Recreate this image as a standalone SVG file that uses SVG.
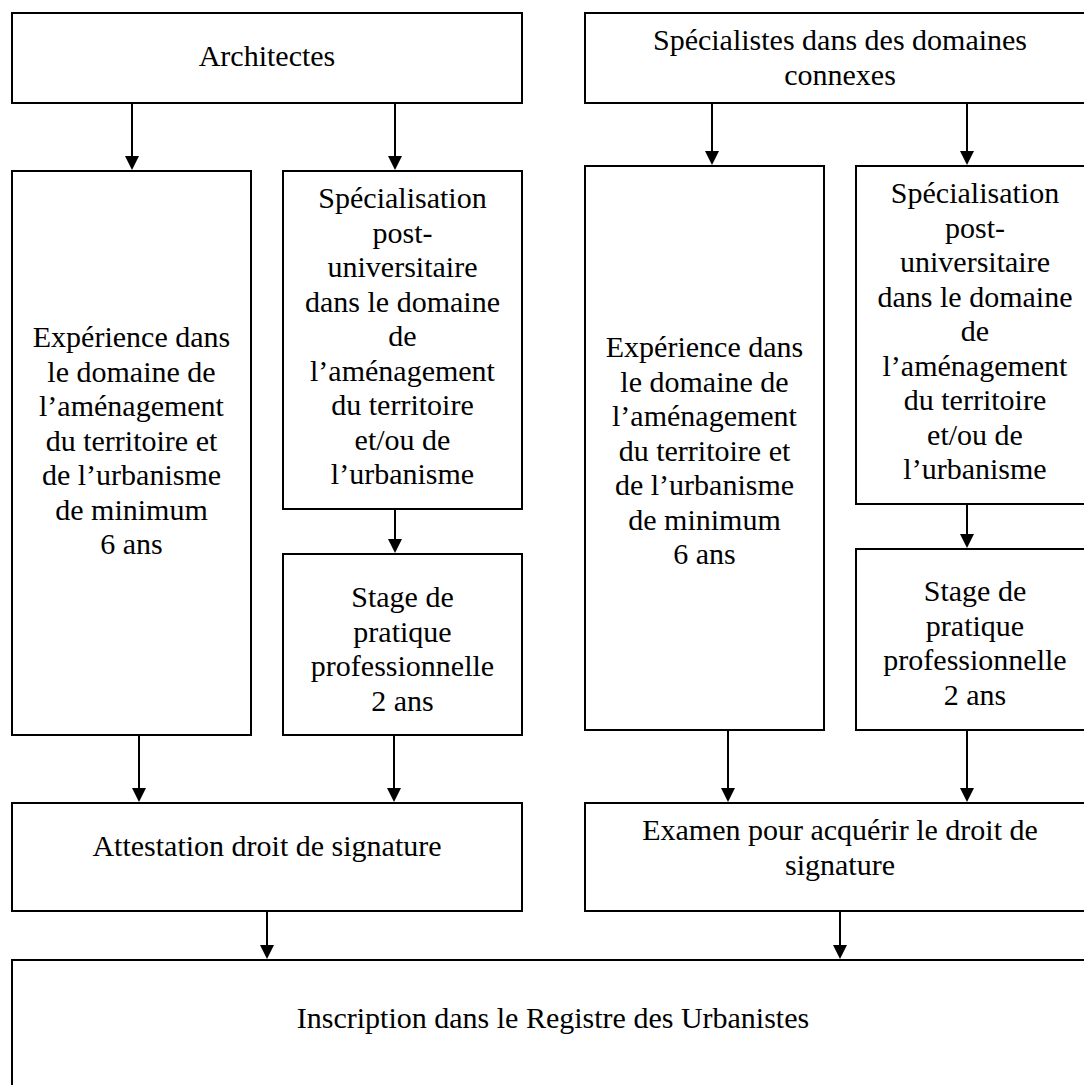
<svg xmlns="http://www.w3.org/2000/svg" width="1084" height="1085" viewBox="0 0 1084 1085">
<style>
.box{fill:#fff;stroke:#000;stroke-width:2}
.t{font-family:"Liberation Serif","Times New Roman",serif;font-size:30px;fill:#000;text-anchor:middle}
.c{stroke:#000;stroke-width:2;fill:none;marker-end:url(#ah)}
</style>
<defs>
<marker id="ah" markerUnits="userSpaceOnUse" markerWidth="14" markerHeight="14" refX="4" refY="7" orient="auto">
<path d="M0,0 L14,7 L0,14 z" fill="#000"/>
</marker>
</defs>
<rect width="1084" height="1085" fill="#fff"/>
<g id="connectors">
<line class="c" x1="132" y1="103" x2="132" y2="160"/>
<line class="c" x1="395" y1="103" x2="395" y2="160"/>
<line class="c" x1="712" y1="103" x2="712" y2="155"/>
<line class="c" x1="967" y1="103" x2="967" y2="155"/>
<line class="c" x1="395" y1="509" x2="395" y2="543"/>
<line class="c" x1="967" y1="504" x2="967" y2="538"/>
<line class="c" x1="139" y1="735" x2="139" y2="792"/>
<line class="c" x1="394" y1="735" x2="394" y2="792"/>
<line class="c" x1="728" y1="730" x2="728" y2="792"/>
<line class="c" x1="967" y1="730" x2="967" y2="792"/>
<line class="c" x1="267" y1="911" x2="267" y2="949"/>
<line class="c" x1="840" y1="911" x2="840" y2="949"/>
</g>
<g id="architectes">
<rect class="box" x="12" y="13" width="510" height="90"/>
<text class="t" x="267" y="66">Architectes</text>
</g>
<g id="specialistes">
<rect class="box" x="585" y="13" width="520" height="90"/>
<text class="t"><tspan x="840" y="50">Spécialistes dans des domaines</tspan><tspan x="840" y="85">connexes</tspan></text>
</g>
<g id="experience-a">
<rect class="box" x="12" y="171" width="239" height="564"/>
<text class="t"><tspan x="131.5" y="347">Expérience dans</tspan><tspan x="131.5" y="381.5">le domaine de</tspan><tspan x="131.5" y="416">l’aménagement</tspan><tspan x="131.5" y="450.5">du territoire et</tspan><tspan x="131.5" y="485">de l’urbanisme</tspan><tspan x="131.5" y="519.5">de minimum</tspan><tspan x="131.5" y="554">6 ans</tspan></text>
</g>
<g id="specialisation-a">
<rect class="box" x="283" y="171" width="239" height="338"/>
<text class="t"><tspan x="402.5" y="208">Spécialisation</tspan><tspan x="402.5" y="242.5">post-</tspan><tspan x="402.5" y="277">universitaire</tspan><tspan x="402.5" y="311.5">dans le domaine</tspan><tspan x="402.5" y="346">de</tspan><tspan x="402.5" y="380.5">l’aménagement</tspan><tspan x="402.5" y="415">du territoire</tspan><tspan x="402.5" y="449.5">et/ou de</tspan><tspan x="402.5" y="484">l’urbanisme</tspan></text>
</g>
<g id="stage-a">
<rect class="box" x="283" y="554" width="239" height="181"/>
<text class="t"><tspan x="402.5" y="607">Stage de</tspan><tspan x="402.5" y="641.5">pratique</tspan><tspan x="402.5" y="676">professionnelle</tspan><tspan x="402.5" y="710.5">2 ans</tspan></text>
</g>
<g id="experience-s">
<rect class="box" x="585" y="166" width="239" height="564"/>
<text class="t"><tspan x="704.5" y="357">Expérience dans</tspan><tspan x="704.5" y="391.5">le domaine de</tspan><tspan x="704.5" y="426">l’aménagement</tspan><tspan x="704.5" y="460.5">du territoire et</tspan><tspan x="704.5" y="495">de l’urbanisme</tspan><tspan x="704.5" y="529.5">de minimum</tspan><tspan x="704.5" y="564">6 ans</tspan></text>
</g>
<g id="specialisation-s">
<rect class="box" x="856" y="166" width="250" height="338"/>
<text class="t"><tspan x="975" y="203">Spécialisation</tspan><tspan x="975" y="237.5">post-</tspan><tspan x="975" y="272">universitaire</tspan><tspan x="975" y="306.5">dans le domaine</tspan><tspan x="975" y="341">de</tspan><tspan x="975" y="375.5">l’aménagement</tspan><tspan x="975" y="410">du territoire</tspan><tspan x="975" y="444.5">et/ou de</tspan><tspan x="975" y="479">l’urbanisme</tspan></text>
</g>
<g id="stage-s">
<rect class="box" x="856" y="549" width="250" height="181"/>
<text class="t"><tspan x="975" y="601">Stage de</tspan><tspan x="975" y="635.5">pratique</tspan><tspan x="975" y="670">professionnelle</tspan><tspan x="975" y="704.5">2 ans</tspan></text>
</g>
<g id="attestation">
<rect class="box" x="12" y="803" width="510" height="108"/>
<text class="t" x="267" y="856">Attestation droit de signature</text>
</g>
<g id="examen">
<rect class="box" x="585" y="803" width="520" height="108"/>
<text class="t"><tspan x="840" y="840">Examen pour acquérir le droit de</tspan><tspan x="840" y="875">signature</tspan></text>
</g>
<g id="inscription">
<rect class="box" x="12" y="960" width="1100" height="150"/>
<text class="t" x="553" y="1028">Inscription dans le Registre des Urbanistes</text>
</g>
</svg>
